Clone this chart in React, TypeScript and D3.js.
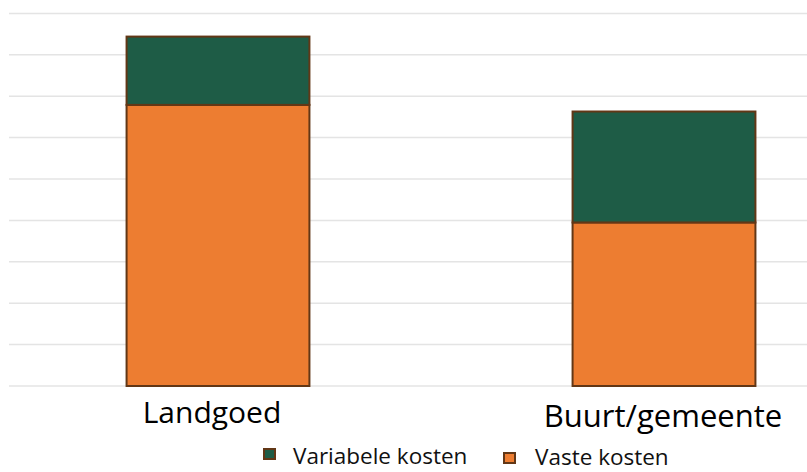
import React from "react";
import * as d3 from "d3";

const categories = ["Landgoed", "Buurt/gemeente"];
const seriesNames = ["Vaste kosten", "Variabele kosten"];
const vasteKosten = [6.79, 3.95];
const variabeleKosten = [1.65, 2.68];
const gridTicks = [0, 1, 2, 3, 4, 5, 6, 7, 8, 9];

const W = 807;
const H = 472;
const COLORS: Record<string, string> = {
  "Vaste kosten": "#ed7d31",
  "Variabele kosten": "#1e5c46",
};
const STROKE = "#623716";

export default function App() {
  const x = d3
    .scaleBand<string>()
    .domain(categories)
    .range([-5, 887])
    .paddingInner(0.59)
    .paddingOuter(0.295);
  const y = d3.scaleLinear().domain([0, 9]).range([386, 13.4]);

  const rows = categories.map((c, i) => ({
    cat: c,
    "Vaste kosten": vasteKosten[i],
    "Variabele kosten": variabeleKosten[i],
  }));
  const stack = d3.stack<any>().keys(seriesNames)(rows);

  const labelDy = [-2, 2];
  const labelDx = [-6, -1];
  const labelSize = [30, 31];

  const legend = [
    { name: "Variabele kosten", sx: 263, sy: 448, tx: 293, ty: 464 },
    { name: "Vaste kosten", sx: 503, sy: 452, tx: 535, ty: 465 },
  ];

  return (
    <svg
      width={W}
      height={H}
      style={{ position: "absolute", left: 0, top: 0, background: "#fff" }}
      fontFamily="'Open Sans', sans-serif"
    >
      <rect x={0} y={0} width={W} height={H} fill="#ffffff" />
      {gridTicks.map((t) => (
        <line
          key={t}
          x1={9}
          x2={W}
          y1={y(t)}
          y2={y(t)}
          stroke="#e4e4e4"
          strokeWidth={1.5}
        />
      ))}
      {stack.map((layer) =>
        layer.map((d, i) => {
          const cat = categories[i];
          const top = y(d[1]);
          const bot = y(d[0]);
          return (
            <rect
              key={layer.key + cat}
              x={x(cat)!}
              y={top}
              width={x.bandwidth()}
              height={bot - top}
              fill={COLORS[layer.key]}
              stroke={STROKE}
              strokeWidth={2}
            />
          );
        })
      )}
      {categories.map((c, i) => (
        <text
          key={c}
          x={x(c)! + x.bandwidth() / 2 + labelDx[i]}
          y={425 + labelDy[i]}
          textAnchor="middle"
          fontSize={labelSize[i]}
          fill="#000"
        >
          {c}
        </text>
      ))}
      {legend.map((l) => (
        <g key={l.name}>
          <rect
            x={l.sx + 1}
            y={l.sy + 1}
            width={11}
            height={10}
            fill={COLORS[l.name]}
            stroke={STROKE}
            strokeWidth={2}
          />
          <text x={l.tx} y={l.ty} fontSize={22.5} fill="#111">
            {l.name}
          </text>
        </g>
      ))}
    </svg>
  );
}
